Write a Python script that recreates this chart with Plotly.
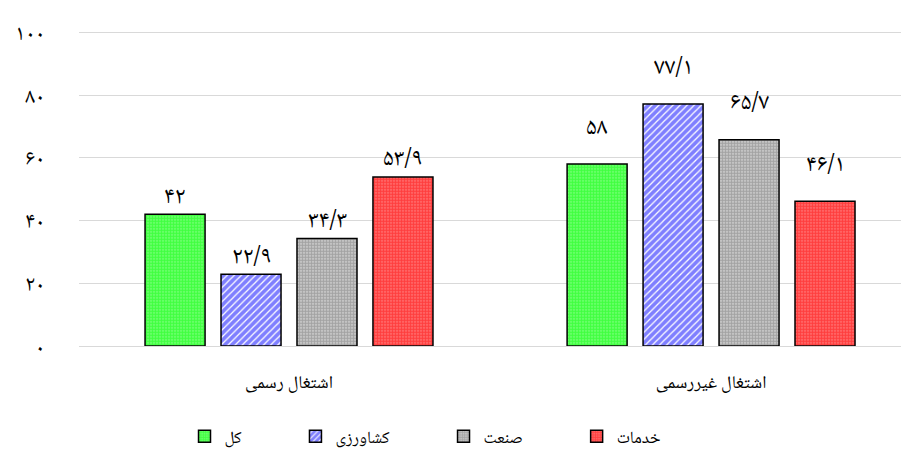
import plotly.graph_objects as go

categories = ["اشتغال رسمی", "اشتغال غیررسمی"]
series_names = ["کل", "کشاورزی", "صنعت", "خدمات"]
val_kol = [42, 58]
val_keshavarzi = [22.9, 77.1]
val_sanat = [34.3, 65.7]
val_khadamat = [53.9, 46.1]
y_ticks = [0, 20, 40, 60, 80, 100]

FA = str.maketrans("0123456789.", "۰۱۲۳۴۵۶۷۸۹/")


def fa(v):
    s = ("%g" % v)
    return s.translate(FA)


styles = [
    dict(fg="#00FF00", bg="#80FF80", shape="."),
    dict(fg="#0000FF", bg="#FFFFFF", shape="/"),
    dict(fg="#6E6E6E", bg="#D8D8D8", shape="."),
    dict(fg="#FF0000", bg="#FF7C7C", shape="."),
]
values = [val_kol, val_keshavarzi, val_sanat, val_khadamat]
FONT = "Noto Naskh Arabic, Noto Sans Arabic, DejaVu Sans"
BARGAP = 0.28
LABEL_LIFT = [17, 36]  # px from bar top to label centre, per category group

fig = go.Figure()
for name, vals, st in zip(series_names, values, styles):
    fig.add_trace(go.Bar(
        x=categories, y=vals, name=name + "\u00a0" * 13,
        marker=dict(
            color=st["bg"],
            line=dict(color="#000000", width=1.5),
            pattern=dict(shape=st["shape"], fgcolor=st["fg"], bgcolor=st["bg"],
                         size=3 if st["shape"] == "." else 5,
                         solidity=0.7 if st["shape"] == "." else 0.75,
                         fillmode="overlay"),
        ),
    ))

slot = (1 - BARGAP) / len(values)
for i, vals in enumerate(values):
    for ci, v in enumerate(vals):
        fig.add_annotation(
            x=ci + (i - (len(values) - 1) / 2) * slot, y=v,
            xref="x", yref="y", text=fa(v), showarrow=False,
            yanchor="middle", yshift=LABEL_LIFT[ci],
            font=dict(size=24, color="#000000", family=FONT),
        )

fig.update_layout(
    width=909, height=454,
    margin=dict(l=71, r=8, t=23, b=116, autoexpand=False),
    plot_bgcolor="#FFFFFF", paper_bgcolor="#FFFFFF",
    barmode="group", bargap=BARGAP, bargroupgap=0.21,
    font=dict(family=FONT, color="#000000", size=15),
    showlegend=True,
    legend=dict(orientation="h", x=0.447, xanchor="center", y=-0.288, yanchor="middle",
                font=dict(size=17, family=FONT), itemwidth=30,
                traceorder="normal"),
)
fig.update_xaxes(range=[-0.4976, 1.469], showgrid=False, showline=False, ticks="",
                 automargin=False,
                 tickfont=dict(size=18, family=FONT), ticklabelstandoff=23)
fig.update_yaxes(range=[0, 100.4], tickvals=y_ticks, ticktext=[fa(t) for t in y_ticks],
                 automargin=False,
                 showgrid=True, gridcolor="#D9D9D9", gridwidth=1.3,
                 zeroline=True, zerolinecolor="#D9D9D9", zerolinewidth=1.3,
                 showline=False, ticks="", tickfont=dict(size=22, family=FONT),
                 ticklabelstandoff=33)

fig.write_html("out.html")
